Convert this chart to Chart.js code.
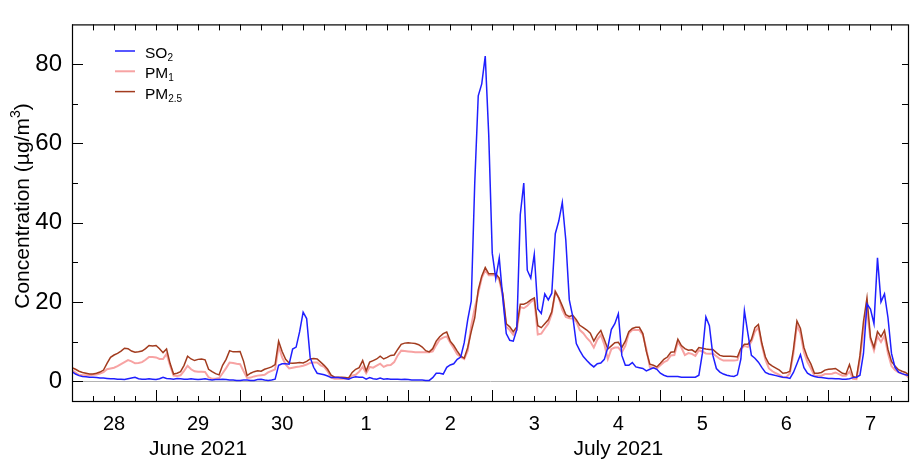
<!DOCTYPE html>
<html><head><meta charset="utf-8">
<script src="https://cdn.jsdelivr.net/npm/chart.js@4.4.1/dist/chart.umd.min.js"></script>
<style>html,body{margin:0;padding:0;background:#fff;}canvas{display:block;}</style>
</head><body>
<canvas id="c" width="910" height="461" style="width:910px;height:461px"></canvas>
<script>
// Day labels (one per day, starting 28 June 2021 00:00)
const dayLabels = ['28','29','30','1','2','3','4','5','6','7'];
const monthLabels = ['June 2021','July 2021'];
const monthDayCounts = [3, 7];
const yTickValues = [0, 20, 40, 60, 80];

// Hourly concentrations (µg/m³), hour 0 = 28 June 00:00
const so2 = [
 2.4,1.8,1.4,1.2,1.1,1.0,1.0,0.9,0.8,0.8,0.7,0.6,
 0.6,0.5,0.5,0.4,0.6,0.8,1.0,0.6,0.5,0.5,0.6,0.5,
 0.4,0.6,1.0,0.7,0.6,0.5,0.7,0.6,0.5,0.5,0.6,0.5,
 0.4,0.5,0.6,0.4,0.3,0.4,0.4,0.5,0.4,0.3,0.3,0.2,
 0.2,0.3,0.3,0.2,0.2,0.4,0.5,0.3,0.2,0.3,0.5,4.0,
 4.4,4.4,4.3,8.1,8.6,12.5,17.4,15.8,6.0,3.5,2.0,1.8,
 1.6,1.3,0.9,0.9,0.9,0.8,0.7,0.5,0.9,1.1,1.0,1.0,
 0.5,0.9,0.6,0.5,0.8,0.5,0.6,0.5,0.5,0.5,0.4,0.5,
 0.4,0.3,0.3,0.3,0.3,0.2,0.2,0.9,2.0,2.0,1.8,3.5,
 4.1,4.4,5.5,6.1,9.7,15.5,20.2,50.0,72.0,75.0,82.0,62.0,
 32.3,25.9,31.1,21.0,12.0,10.3,10.1,13.0,42.0,50.0,28.0,26.0,
 32.0,18.2,17.1,22.0,20.5,22.2,37.2,40.4,45.1,35.6,20.5,16.2,
 9.5,7.7,6.2,5.2,4.3,3.6,4.4,4.6,5.5,8.5,13.0,14.5,
 17.0,6.5,4.0,4.0,4.7,3.6,3.4,3.2,2.6,3.0,3.4,3.0,
 2.0,1.5,1.2,1.2,1.2,1.2,1.0,1.0,1.0,1.0,1.0,1.5,
 7.0,16.2,14.0,6.5,3.2,2.3,1.8,1.5,1.3,1.2,1.6,5.6,
 17.8,12.0,6.5,5.8,4.8,3.4,2.2,1.8,1.6,1.4,1.2,1.0,
 0.9,0.7,2.2,4.4,6.7,3.4,2.0,1.5,1.2,1.0,0.9,0.8,
 0.7,0.7,0.6,0.6,0.5,0.5,0.6,0.9,1.0,1.5,7.0,19.5,
 18.2,14.5,31.1,20.0,22.0,16.0,7.0,3.5,2.3,1.9,1.6,1.4
];
const pm1 = [
 2.8,2.2,1.6,1.5,1.5,1.5,1.6,1.7,1.9,2.3,3.0,3.2,
 3.4,3.8,4.3,4.8,5.3,5.0,4.5,4.6,4.8,5.4,6.1,6.1,
 6.0,5.6,5.6,6.9,4.0,1.4,1.3,1.5,2.6,3.9,3.0,2.5,
 2.4,2.4,2.3,1.0,0.6,0.6,0.8,2.0,3.3,4.7,4.6,4.4,
 4.3,2.5,0.8,0.9,1.2,1.4,1.5,1.6,2.2,2.6,3.0,8.8,
 6.0,4.2,3.2,3.4,3.6,3.7,3.9,4.2,4.6,4.7,4.7,4.0,
 3.6,2.5,0.9,0.6,0.6,0.6,0.6,0.6,1.4,1.6,2.4,3.6,
 2.0,3.6,3.4,3.9,4.4,3.6,4.0,4.1,4.8,6.5,7.7,7.6,
 7.5,7.4,7.3,7.3,7.3,7.3,7.3,7.5,9.1,10.5,11.0,11.3,
 9.7,8.3,6.8,6.1,5.6,7.7,14.0,18.5,22.2,26.0,28.0,26.7,
 26.7,26.7,25.5,21.4,13.7,12.9,11.7,12.9,18.7,18.4,19.0,20.0,
 20.6,11.8,12.0,13.3,14.5,17.0,22.6,21.0,18.0,16.2,15.9,15.8,
 15.0,12.9,12.1,10.9,10.0,8.5,10.5,11.7,9.3,5.6,8.1,8.5,
 8.5,7.3,8.9,12.1,12.9,12.9,12.9,11.7,8.1,3.6,3.4,3.2,
 4.0,4.8,5.2,6.5,6.6,9.9,8.5,6.6,7.1,6.9,6.4,7.8,
 7.5,7.0,6.9,7.0,6.3,5.6,5.2,5.2,5.2,5.2,5.3,8.1,
 8.9,8.6,10.0,12.5,13.5,9.0,5.4,3.2,2.5,2.0,1.6,1.0,
 1.0,2.0,7.0,14.1,12.1,7.3,4.8,3.2,1.4,1.4,1.4,1.8,
 1.8,1.9,2.2,1.8,1.4,1.4,2.4,0.6,0.5,5.5,13.0,17.9,
 10.5,7.7,11.3,9.9,11.5,7.0,3.8,2.8,2.2,1.9,1.6,0.9
];
const pm25 = [
 3.4,3.0,2.5,2.2,2.0,1.8,1.8,2.0,2.3,2.8,4.5,6.0,
 6.6,7.0,7.6,8.3,8.2,7.6,7.3,7.4,7.6,8.2,9.0,8.9,
 9.0,8.2,7.2,8.1,4.5,1.8,2.0,2.4,4.0,6.3,5.6,5.2,
 5.5,5.6,5.4,3.0,2.4,1.9,1.6,4.0,5.5,7.7,7.4,7.4,
 7.5,5.0,1.4,2.0,2.4,2.6,2.5,3.0,3.3,3.6,4.2,10.1,
 7.5,5.5,4.6,4.5,4.6,4.7,4.6,5.0,5.6,5.7,5.6,4.8,
 4.0,3.0,1.5,1.0,1.0,1.0,0.9,0.8,2.2,3.0,3.4,5.2,
 2.6,4.8,5.2,5.6,6.3,5.6,6.0,6.5,6.6,8.0,9.3,9.6,
 9.7,9.6,9.5,9.2,8.6,7.7,7.4,8.2,10.1,11.2,12.0,12.4,
 10.1,9.0,7.6,6.3,5.8,8.5,12.5,16.0,23.0,26.5,28.7,27.1,
 27.1,27.1,26.0,22.2,14.5,13.7,12.5,13.7,19.4,19.4,19.8,20.5,
 21.0,14.0,13.5,14.5,15.5,17.5,22.6,21.0,19.0,16.8,16.3,16.6,
 15.5,14.1,13.5,12.9,12.1,10.1,11.7,12.8,10.5,8.1,8.9,9.7,
 9.8,8.5,10.1,12.5,13.3,13.6,13.6,12.0,7.5,4.3,4.0,3.6,
 4.5,5.5,6.1,7.3,7.4,10.6,9.0,8.2,7.8,7.9,7.3,8.5,
 8.3,8.1,8.0,8.0,7.2,6.5,6.3,6.3,6.3,6.2,6.1,8.3,
 9.3,9.3,10.5,13.5,14.3,9.5,6.1,4.4,3.8,3.3,2.8,2.0,
 2.1,2.5,8.0,15.2,13.3,8.5,6.0,4.3,2.0,2.0,2.2,2.8,
 3.0,3.1,3.2,2.6,2.0,1.8,4.2,1.2,0.9,6.5,15.0,21.0,
 11.0,8.5,12.5,11.2,12.8,8.0,5.0,3.8,2.9,2.5,2.2,1.5
];

const FONT = "'Liberation Sans', Arial, Helvetica, sans-serif";
const toXY = arr => arr.map((v, i) => ({x: i, y: v}));
const dayNoon = dayLabels.map((_, i) => i * 24 + 12);

const seriesInfo = [
  {main: 'SO', sub: '2', color: '#1f1fff'},
  {main: 'PM', sub: '1', color: '#f7a3a3'},
  {main: 'PM', sub: '2.5', color: '#a23b1e'}
];

const decor = {
  id: 'decor',
  beforeDatasetsDraw(chart) {
    const {ctx, chartArea: a, scales: {y}} = chart;
    ctx.save();
    ctx.strokeStyle = '#b4b4b4';
    ctx.lineWidth = 1;
    const y0 = Math.round(y.getPixelForValue(0)) + 0.5;
    ctx.beginPath(); ctx.moveTo(a.left, y0); ctx.lineTo(a.right, y0); ctx.stroke();
    ctx.restore();
  },
  afterDraw(chart) {
    const {ctx, chartArea: a, scales: {x, y}} = chart;
    ctx.save();
    // frame
    ctx.strokeStyle = '#000';
    ctx.lineWidth = 1.2;
    ctx.strokeRect(a.left + 0.5, a.top + 0.5, a.right - a.left - 1, a.bottom - a.top);
    // ticks
    ctx.lineWidth = 1;
    ctx.beginPath();
    for (let h = 0; h <= x.max; h += 6) {
      const px = Math.round(x.getPixelForValue(h)) + 0.5;
      const len = h % 24 === 0 ? 11 : 5;
      ctx.moveTo(px, a.bottom); ctx.lineTo(px, a.bottom - len);
      ctx.moveTo(px, a.top); ctx.lineTo(px, a.top + 6);
    }
    for (let v = 0; v <= 80; v += 10) {
      const py = Math.round(y.getPixelForValue(v)) + 0.5;
      ctx.moveTo(a.left, py); ctx.lineTo(a.left + (v % 20 === 0 ? 11 : 6), py);
      ctx.moveTo(a.right, py); ctx.lineTo(a.right - 7, py);
    }
    ctx.stroke();
    // month labels
    ctx.fillStyle = '#000';
    ctx.font = '21px ' + FONT;
    ctx.textAlign = 'center';
    ctx.textBaseline = 'alphabetic';
    let startDay = 0;
    monthLabels.forEach((m, i) => {
      const mid = (startDay + monthDayCounts[i] / 2) * 24;
      ctx.fillText(m, x.getPixelForValue(mid), 455);
      startDay += monthDayCounts[i];
    });
    // y title with superscript
    ctx.save();
    ctx.translate(22, 206);
    ctx.rotate(-Math.PI / 2);
    const tA = 'Concentration (µg/m', tS = '3', tB = ')';
    const fMain = '21px ' + FONT, fSup = '14px ' + FONT;
    ctx.font = fMain; const wA = ctx.measureText(tA).width, wB = ctx.measureText(tB).width;
    ctx.font = fSup; const wS = ctx.measureText(tS).width;
    const total = wA + wS + wB;
    let cx = -total / 2;
    ctx.textAlign = 'left';
    ctx.textBaseline = 'middle';
    ctx.font = fMain; ctx.fillText(tA, cx, 1); cx += wA;
    ctx.font = fSup; ctx.fillText(tS, cx, -6); cx += wS;
    ctx.font = fMain; ctx.fillText(tB, cx, 1);
    ctx.restore();
    // legend
    const lx0 = a.left + 43, lx1 = a.left + 63, tx = a.left + 73;
    seriesInfo.forEach((s, i) => {
      const ly = 51 + i * 20.3;
      ctx.strokeStyle = s.color;
      ctx.lineWidth = i === 1 ? 2 : 1.5;
      ctx.beginPath(); ctx.moveTo(lx0, ly); ctx.lineTo(lx1, ly); ctx.stroke();
      ctx.fillStyle = '#000';
      ctx.textAlign = 'left';
      ctx.textBaseline = 'alphabetic';
      ctx.font = '15.5px ' + FONT;
      ctx.fillText(s.main, tx, ly + 7);
      const w = ctx.measureText(s.main).width;
      ctx.font = '10px ' + FONT;
      ctx.fillText(s.sub, tx + w, ly + 10);
    });
    ctx.restore();
  }
};

new Chart(document.getElementById('c'), {
  type: 'line',
  data: {
    datasets: [
      {label: 'SO2', data: toXY(so2), borderColor: seriesInfo[0].color, borderWidth: 1.5, order: 0},
      {label: 'PM2.5', data: toXY(pm25), borderColor: seriesInfo[2].color, borderWidth: 1.5, order: 1},
      {label: 'PM1', data: toXY(pm1), borderColor: seriesInfo[1].color, borderWidth: 2, order: 2}
    ]
  },
  options: {
    responsive: false,
    animation: false,
    devicePixelRatio: 1,
    layout: {padding: {left: 0, right: 1, top: 9, bottom: 0}},
    elements: {point: {radius: 0}, line: {tension: 0}},
    plugins: {legend: {display: false}, tooltip: {enabled: false}},
    scales: {
      x: {
        type: 'linear', min: 0, max: 239,
        grid: {display: false, drawTicks: false},
        border: {display: false},
        afterBuildTicks: s => { s.ticks = dayNoon.map(v => ({value: v})); },
        afterFit: s => { s.height = 60; },
        ticks: {
          autoSkip: false, maxRotation: 0, padding: 11, color: '#000',
          font: {family: FONT, size: 20},
          callback: (v) => dayLabels[(v - 12) / 24]
        }
      },
      y: {
        min: -5, max: 90,
        grid: {display: false, drawTicks: false},
        border: {display: false},
        afterBuildTicks: s => { s.ticks = yTickValues.map(v => ({value: v})); },
        afterFit: s => { s.width = 72; },
        ticks: {padding: 10, color: '#000', font: {family: FONT, size: 24}}
      }
    }
  },
  plugins: [decor]
});
</script>
</body></html>
